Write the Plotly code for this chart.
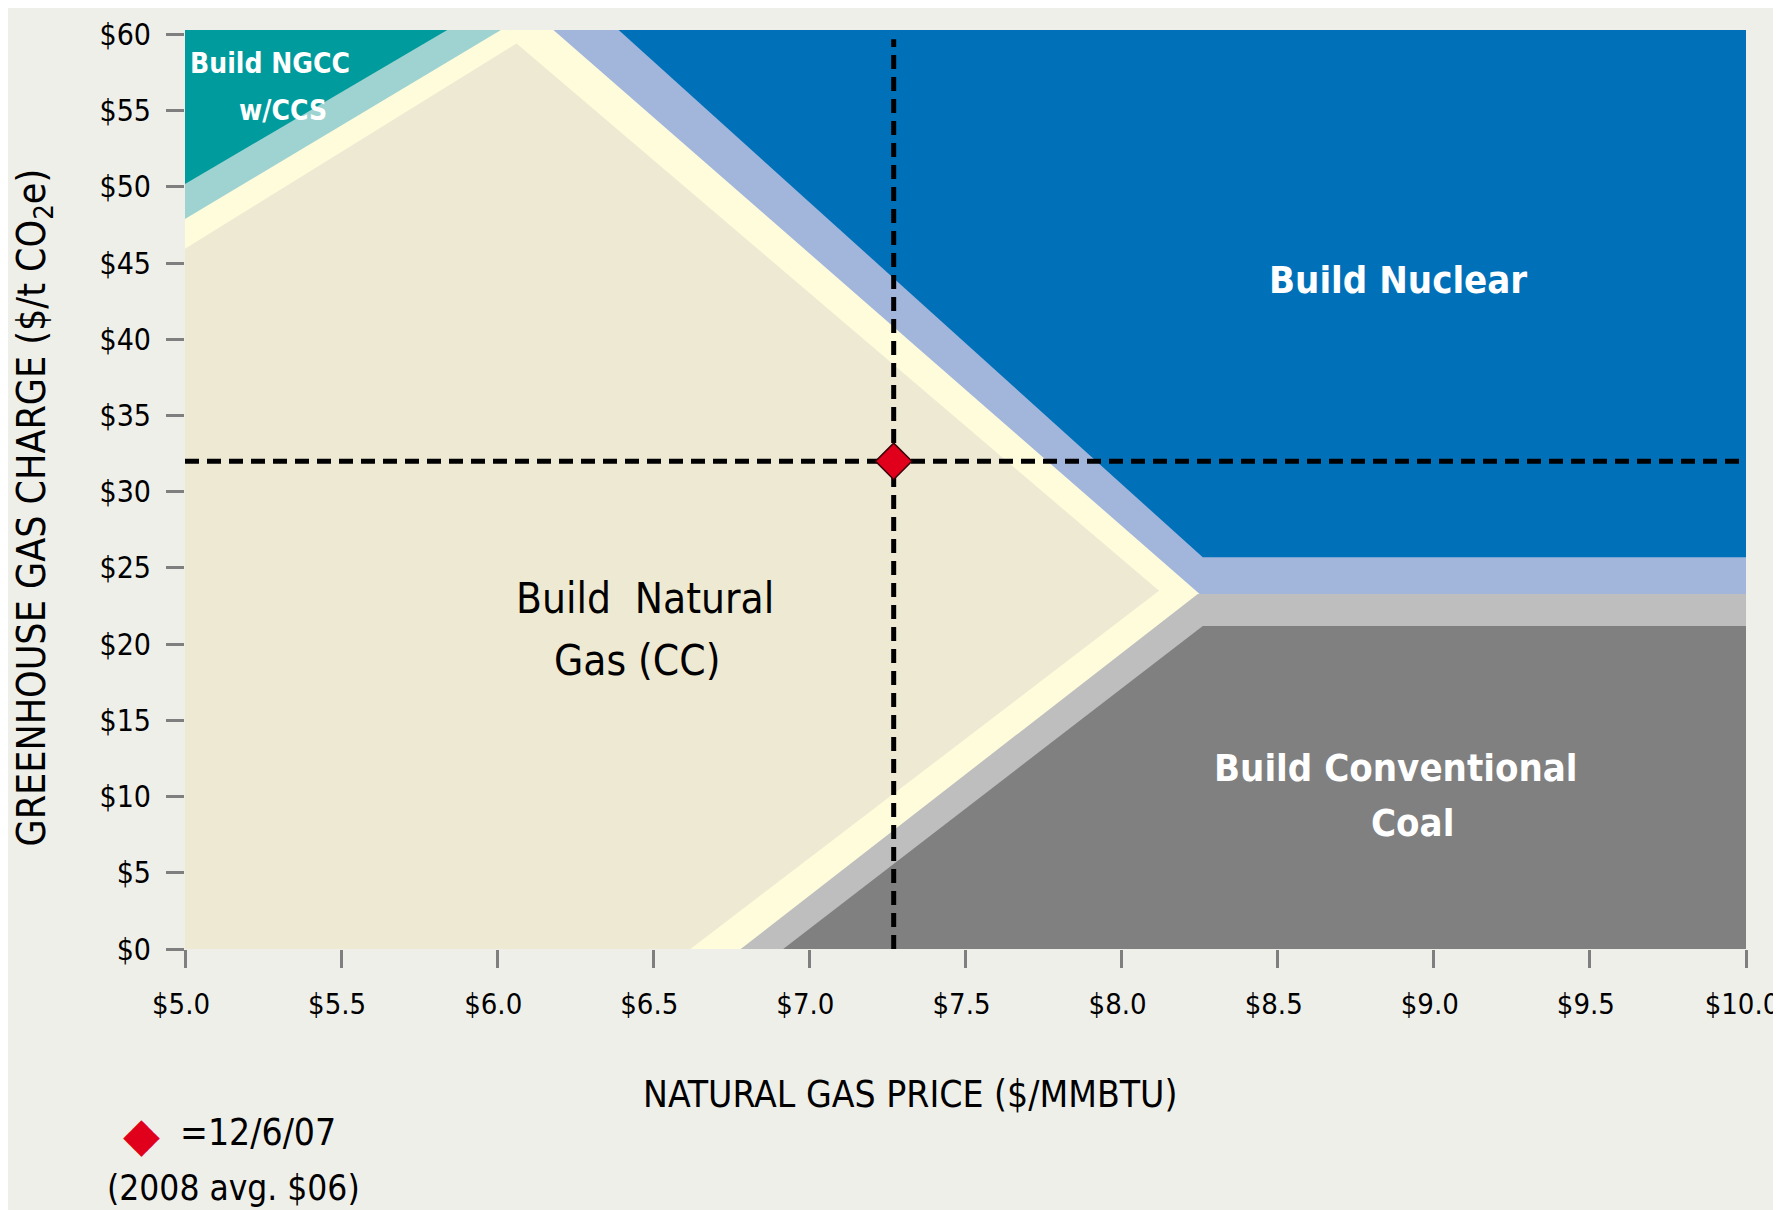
import plotly.graph_objects as go

# axis ticks
GAS_PRICE_TICKS = [5.0, 5.5, 6.0, 6.5, 7.0, 7.5, 8.0, 8.5, 9.0, 9.5, 10.0]
GAS_PRICE_LABELS = ["$5.0", "$5.5", "$6.0", "$6.5", "$7.0", "$7.5",
                    "$8.0", "$8.5", "$9.0", "$9.5", "$10.0"]
GHG_TICKS = [0, 5, 10, 15, 20, 25, 30, 35, 40, 45, 50, 55, 60]
GHG_LABELS = ["$0", "$5", "$10", "$15", "$20", "$25", "$30",
              "$35", "$40", "$45", "$50", "$55", "$60"]

# decision regions: outlines in (gas price, GHG charge)
GAS_X = [5.0, 5.0, 6.062, 8.12, 6.619]
GAS_Y = [0.0, 45.95, 59.42, 23.5, 0.0]
NGCC_BAND_X = [5.0, 5.0, 6.012]
NGCC_BAND_Y = [47.9, 60.3, 60.3]
NGCC_X = [5.0, 5.0, 5.84]
NGCC_Y = [50.2, 60.3, 60.3]
NUCLEAR_BAND_X = [6.18, 8.25, 10.0, 10.0]
NUCLEAR_BAND_Y = [60.3, 23.3, 23.3, 60.3]
NUCLEAR_X = [6.389, 8.26, 10.0, 10.0]
NUCLEAR_Y = [60.3, 25.7, 25.7, 60.3]
COAL_BAND_X = [6.78, 8.244, 10.0, 10.0]
COAL_BAND_Y = [0.0, 23.3, 23.3, 0.0]
COAL_X = [6.916, 8.26, 10.0, 10.0]
COAL_Y = [0.0, 21.2, 21.2, 0.0]

# 12/6/07 point
POINT_GAS = 7.27
POINT_GHG = 32.0

X_RANGE = [5.0, 10.0]
Y_RANGE = [0.0, 60.3]

FONT = "DejaVu Sans Condensed, DejaVu Sans, sans-serif"
BG = "#EFEFEA"

fig = go.Figure()

regions = [
    (GAS_X, GAS_Y, "#EEE9D3"),
    (NGCC_BAND_X, NGCC_BAND_Y, "#9FD3D2"),
    (NGCC_X, NGCC_Y, "#009B9C"),
    (NUCLEAR_BAND_X, NUCLEAR_BAND_Y, "#A2B5DB"),
    (NUCLEAR_X, NUCLEAR_Y, "#0071B8"),
    (COAL_BAND_X, COAL_BAND_Y, "#BEBEBE"),
    (COAL_X, COAL_Y, "#808080"),
]
for xs, ys, color in regions:
    fig.add_trace(go.Scatter(x=xs, y=ys, fill="toself", fillcolor=color,
                             mode="lines", line=dict(width=0),
                             hoverinfo="skip", showlegend=False))

dash = "14px,8px"
fig.add_trace(go.Scatter(x=[X_RANGE[0], X_RANGE[1]], y=[POINT_GHG, POINT_GHG],
                         mode="lines", line=dict(color="black", width=5, dash=dash),
                         showlegend=False, hoverinfo="skip"))
fig.add_trace(go.Scatter(x=[POINT_GAS, POINT_GAS], y=[0, 59.7],
                         mode="lines", line=dict(color="black", width=5, dash=dash),
                         showlegend=False, hoverinfo="skip"))
fig.add_trace(go.Scatter(x=[POINT_GAS], y=[POINT_GHG], mode="markers",
                         marker=dict(symbol="diamond", size=28, color="#E0001B",
                                     line=dict(color="#3A0008", width=1.5)),
                         showlegend=False))

labels = [
    ("Build NGCC", 5.271, 58.1, 28, "white", True),
    ("w/CCS", 5.314, 55.0, 28, "white", True),
    ("Build Nuclear", 8.885, 43.9, 38, "white", True),
    ("Build\u00a0 Natural", 6.472, 23.0, 42, "black", False),
    ("Gas (CC)", 6.448, 18.9, 42, "black", False),
    ("Build Conventional", 8.879, 11.9, 38, "white", True),
    ("Coal", 8.933, 8.3, 38, "white", True),
]
for text, x, y, size, color, bold in labels:
    fig.add_annotation(x=x, y=y, xref="x", yref="y",
                       text=f"<b>{text}</b>" if bold else text,
                       showarrow=False, xanchor="center", yanchor="middle",
                       font=dict(family=FONT, size=size, color=color))

# axis titles
fig.add_annotation(x=0.4644, y=-0.158, xref="paper", yref="paper",
                   text="NATURAL GAS PRICE ($/MMBTU)", showarrow=False,
                   xanchor="center", yanchor="middle",
                   font=dict(family=FONT, size=37, color="black"))
fig.add_annotation(x=-0.097, y=0.48, xref="paper", yref="paper",
                   text="GREENHOUSE GAS CHARGE ($/t CO<sub>2</sub>e)", showarrow=False,
                   textangle=-90, xanchor="center", yanchor="middle",
                   font=dict(family=FONT, size=39, color="black"))

# key for the point
fig.add_annotation(x=-0.0278, y=-0.2013, xref="paper", yref="paper",
                   text="\u25c6", showarrow=False, xanchor="center", yanchor="middle",
                   font=dict(family="DejaVu Sans", size=48, color="#E0001B"))
fig.add_annotation(x=-0.0045, y=-0.2002, xref="paper", yref="paper",
                   text="=12/6/07", showarrow=False, xanchor="left", yanchor="middle",
                   font=dict(family=FONT, size=37, color="black"))
fig.add_annotation(x=0.0311, y=-0.26, xref="paper", yref="paper",
                   text="(2008 avg. $06)", showarrow=False, xanchor="center",
                   yanchor="middle",
                   font=dict(family=FONT, size=35, color="black"))

# page body adds 8px, so the figure is 8px smaller to keep the plot in place
fig.update_layout(
    width=1773, height=1202,
    paper_bgcolor=BG, plot_bgcolor="#FFFCDC",
    margin=dict(l=177, r=35, t=22, b=261),
    showlegend=False,
    font=dict(family=FONT, color="black"),
)
fig.update_xaxes(range=X_RANGE, tickvals=GAS_PRICE_TICKS, ticktext=GAS_PRICE_LABELS,
                 ticks="outside", ticklen=18, tickwidth=3, tickcolor="#7F7F7F",
                 showgrid=False, zeroline=False, showline=False, automargin=False,
                 ticklabeloverflow="allow", ticklabelstandoff=11, ticklabelshift=-4,
                 tickfont=dict(family=FONT, size=29))
fig.update_yaxes(range=Y_RANGE, tickvals=GHG_TICKS, ticktext=GHG_LABELS,
                 ticks="outside", ticklen=18, tickwidth=3, tickcolor="#7F7F7F",
                 showgrid=False, zeroline=False, showline=False, automargin=False,
                 ticklabeloverflow="allow", ticklabelstandoff=9,
                 tickfont=dict(family=FONT, size=30))

fig.write_html("out.html")
